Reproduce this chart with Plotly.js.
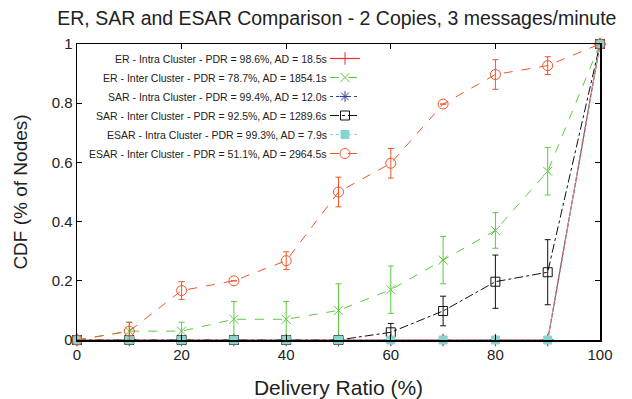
<!DOCTYPE html>
<html><head><meta charset="utf-8">
<script src="https://cdn.plot.ly/plotly-3.0.1.min.js"></script>
<style>html,body{margin:0;padding:0;background:#fff}#chart{width:632px;height:399px}</style>
</head><body><div id="chart"></div>
<script>
const deliveryRatio = [0,10,20,30,40,50,60,70,80,90,100];
const seriesNames = [
  "ER - Intra Cluster - PDR = 98.6%, AD = 18.5s",
  "ER - Inter Cluster - PDR = 78.7%, AD = 1854.1s",
  "SAR - Intra Cluster - PDR = 99.4%, AD = 12.0s",
  "SAR - Inter Cluster - PDR = 92.5%, AD = 1289.6s",
  "ESAR - Intra Cluster - PDR = 99.3%, AD = 7.9s",
  "ESAR - Inter Cluster - PDR = 51.1%, AD = 2964.5s"
];
const erIntra   = [0,0,0,0,0,0,0,0,0,0,1];
const erInter   = [0,0.03,0.03,0.07,0.07,0.10,0.17,0.27,0.37,0.57,1];
const erInterErrPlus  = [0,0.03,0.03,0.06,0.06,0.09,0.08,0.08,0.06,0.08,0];
const erInterErrMinus = [0,0.03,0.03,0.06,0.06,0.09,0.08,0.08,0.06,0.08,0];
const sarIntra  = [0,0,0,0,0,0,0,0,0,0,1];
const sarInter  = [0,0,0,0,0,0,0.026,0.098,0.197,0.229,1];
const sarInterErrPlus  = [0,0,0,0,0,0,0.03,0.05,0.09,0.11,0];
const sarInterErrMinus = [0,0,0,0,0,0,0.026,0.05,0.09,0.11,0];
const esarIntra = [0,0,0,0,0,0,0,0,0,0,1];
const esarInter = [0,0.03,0.167,0.20,0.268,0.50,0.597,0.797,0.897,0.927,1];
const esarInterErrPlus  = [0,0.03,0.03,0,0.03,0.05,0.05,0,0.05,0.03,0];
const esarInterErrMinus = [0,0.03,0.03,0,0.03,0.05,0.05,0,0.05,0.03,0];
const xTicks = [0,20,40,60,80,100];
const yTicks = [0,0.2,0.4,0.6,0.8,1];

function tr(y, i, color, dash, symbol, msize, lw, errP, errM){
  const t = {x: deliveryRatio, y: y, type:'scatter', mode:'lines+markers', name: ' ',
    hovertext: seriesNames[i],
    line:{color:color, dash:dash, width:lw},
    marker:{symbol:symbol, size:msize, color:color, line:{color:color, width:1}},
    cliponaxis:false};
  if (errP) t.error_y = {type:'data', symmetric:false, array:errP, arrayminus:errM, color:color, thickness:1, width:3};
  return t;
}
const cRed='#e8302c', cGreen='#5cca3e', cBlue='#2b3fa0', cBlack='#111111', cCyan='#85d6d0', cOrange='#f0552a';
const traces = [
  tr(erIntra,0,cRed,'solid','cross-thin',9,1.2),
  tr(erInter,1,cGreen,'dash','x-thin',9,1,erInterErrPlus,erInterErrMinus),
  tr(sarIntra,2,cBlue,'dot','asterisk',9,1),
  tr(sarInter,3,cBlack,'dashdot','square-open',9,1,sarInterErrPlus,sarInterErrMinus),
  tr(esarIntra,4,cCyan,'dot','square',8,1),
  tr(esarInter,5,cOrange,'dash','circle-open',10,1,esarInterErrPlus,esarInterErrMinus)
];
const L = 77, R = 600, T = 44, B = 340;
const annots = seriesNames.map((s,i)=>({xref:'paper', yref:'paper', x:(329-L)/(R-L), xanchor:'right',
  y:(B-(58+19*i))/(B-T), yanchor:'middle', text:s, showarrow:false, font:{size:10.5, color:'#222'}}));
const axCommon = {showgrid:false, zeroline:false, showline:true, linecolor:'#000', linewidth:1.5, mirror:'allticks',
  ticks:'inside', ticklen:5, tickcolor:'#000', tickfont:{size:15, color:'#222'}};
const layout = {
  width:632, height:399,
  margin:{l:L, r:632-R, t:T, b:399-B},
  paper_bgcolor:'#fff', plot_bgcolor:'#fff',
  font:{family:'Liberation Sans, Arial, sans-serif', color:'#222'},
  title:{text:'ER, SAR and ESAR Comparison - 2 Copies, 3 messages/minute', font:{size:19.5, color:'#222'}, x:0.533, xanchor:'center', y:0.955, yanchor:'middle'},
  xaxis:Object.assign({}, axCommon, {range:[0,100], tickvals:xTicks, title:{text:'Delivery Ratio (%)', font:{size:21}, standoff:19}}),
  yaxis:Object.assign({}, axCommon, {range:[0,1], tickvals:yTicks, title:{text:'CDF (% of Nodes)', font:{size:19}, standoff:19}}),
  showlegend:true,
  legend:{x:(325-L)/(R-L), xanchor:'left', y:(B-44)/(B-T), yanchor:'top', bgcolor:'rgba(0,0,0,0)', font:{size:10}, itemwidth:30, tracegroupgap:0},
  annotations: annots
};
const gd = document.getElementById('chart');
Plotly.newPlot(gd, traces, layout, {displayModeBar:false, staticPlot:true}).then(()=>{
  // align the right-aligned legend labels with the legend symbols drawn by Plotly
  const items = gd.querySelectorAll('.legend .traces');
  const top = gd.getBoundingClientRect().top;
  const upd = {};
  items.forEach((el,i)=>{
    const r = el.querySelector('.legendpoints') ? el.querySelector('.legendpoints').getBoundingClientRect() : el.getBoundingClientRect();
    const cy = (r.top + r.bottom)/2 - top;
    upd['annotations['+i+'].y'] = (B - cy)/(B - T);
  });
  return Plotly.relayout(gd, upd);
});
</script></body></html>
